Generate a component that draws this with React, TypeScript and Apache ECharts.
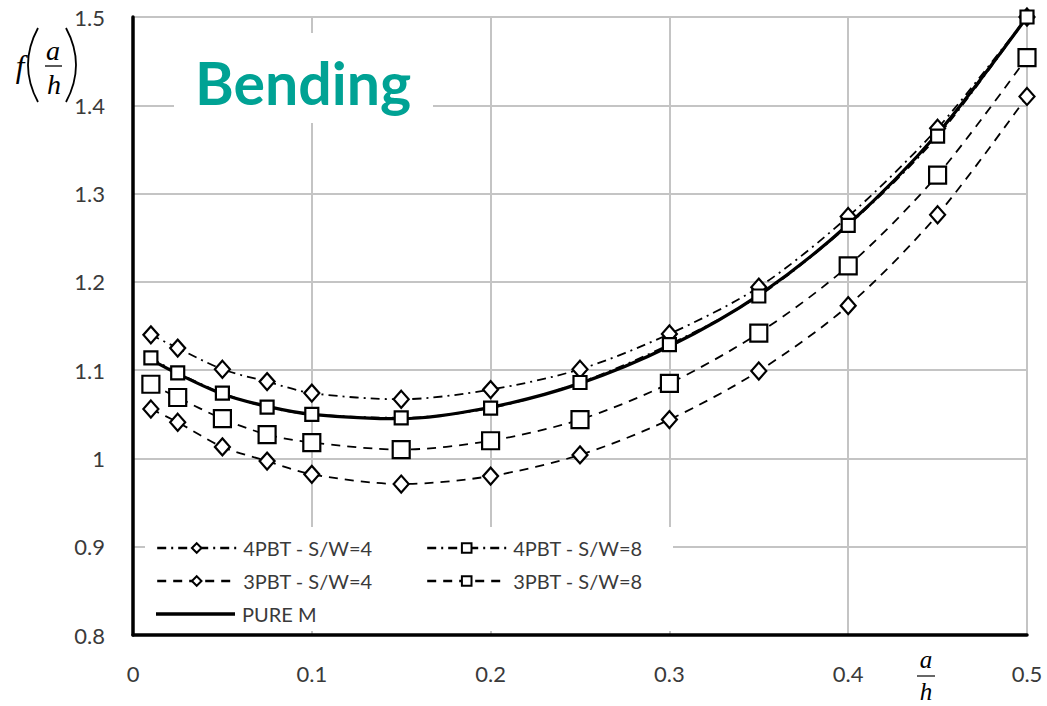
import React, { useEffect, useRef } from "react";
import * as echarts from "echarts";

const xValues = [0.01, 0.025, 0.05, 0.075, 0.1, 0.15, 0.2, 0.25, 0.3, 0.35, 0.4, 0.45, 0.5];
const pbt4sw4 = [1.14, 1.125, 1.101, 1.087, 1.074, 1.067, 1.078, 1.101, 1.141, 1.194, 1.274, 1.374, 1.5];
const pbt4sw8 = [1.114, 1.097, 1.074, 1.058, 1.05, 1.046, 1.057, 1.086, 1.129, 1.184, 1.264, 1.365, 1.5];
const pbt3sw4 = [1.056, 1.041, 1.013, 0.997, 0.982, 0.971, 0.98, 1.004, 1.044, 1.099, 1.173, 1.276, 1.41];
const pbt3sw8 = [1.084, 1.069, 1.045, 1.027, 1.018, 1.01, 1.02, 1.044, 1.085, 1.142, 1.218, 1.321, 1.454];
const pureM = [1.112, 1.096, 1.073, 1.059, 1.05, 1.045, 1.058, 1.085, 1.127, 1.185, 1.265, 1.368, 1.5];
const seriesNames = ["4PBT - S/W=4", "4PBT - S/W=8", "3PBT - S/W=4", "3PBT - S/W=8", "PURE M"];
const yTicks = ["0.8", "0.9", "1", "1.1", "1.2", "1.3", "1.4", "1.5"];
const xTicks = ["0", "0.1", "0.2", "0.3", "0.4", "0.5"];
const titleText = "Bending";

const FONT = "Lato, 'Open Sans', sans-serif";
const SERIF = "'Liberation Serif', 'DejaVu Serif', serif";
const DASH = [9, 7];
const DASHDOT = [9, 5, 2, 5];

function pairs(vals: number[]) {
  return xValues.map((x, i) => [x, vals[i]]);
}

export default function App() {
  const ref = useRef<HTMLDivElement>(null);
  useEffect(() => {
    document.body.style.margin = "0";
    const chart = echarts.init(ref.current!, null, { renderer: "svg" });
    const mk = (name: string, vals: number[], type: any, symbol: string, size: any, width: number, showSymbol = true) => ({
      name,
      type: "line",
      data: pairs(vals),
      smooth: 0.3,
      symbol,
      symbolSize: size,
      showSymbol,
      lineStyle: { color: "#000", width, type },
      itemStyle: { color: "#fff", borderColor: "#000", borderWidth: 2.2 },
      emphasis: { disabled: true },
      z: 5,
    });
    const legendAt = (name: string, left: number, top: number, extra: any = {}) => ({
      data: [name],
      left,
      top,
      padding: 0,
      itemWidth: 79,
      itemHeight: 12,
      itemGap: 0,
      selectedMode: false,
      lineStyle: { width: 2.4 },
      textStyle: { fontFamily: FONT, fontSize: 20, color: "#3a3a3a", padding: [0, 0, 0, 2] },
      z: 10,
      ...extra,
    });
    chart.setOption({
      animation: false,
      grid: { left: 133, right: 20, top: 17, bottom: 71 },
      xAxis: {
        type: "value",
        min: 0,
        max: 0.5,
        interval: 0.1,
        axisLine: { show: true, lineStyle: { color: "#000", width: 3.5 } },
        axisTick: { show: false },
        splitLine: { show: true, lineStyle: { color: "#c4c4c4", width: 2 } },
        axisLabel: {
          margin: 27,
          fontFamily: FONT,
          fontSize: 22,
          color: "#3a3a3a",
          formatter: (v: number) => xTicks[Math.round(v * 10)],
        },
      },
      yAxis: {
        type: "value",
        min: 0.8,
        max: 1.5,
        interval: 0.1,
        axisLine: { show: true, lineStyle: { color: "#000", width: 3.5 } },
        axisTick: { show: false },
        splitLine: { show: true, lineStyle: { color: "#c4c4c4", width: 2 } },
        axisLabel: {
          margin: 28,
          fontFamily: FONT,
          fontSize: 22,
          color: "#3a3a3a",
          formatter: (v: number) => yTicks[Math.round((v - 0.8) * 10)],
        },
      },
      legend: [
        legendAt(seriesNames[0], 156, 538),
        legendAt(seriesNames[1], 426, 538),
        legendAt(seriesNames[2], 156, 571),
        legendAt(seriesNames[3], 426, 571),
        legendAt(seriesNames[4], 156, 604, {
          icon: "rect",
          itemHeight: 3.5,
          itemStyle: { color: "#000", borderWidth: 0 },
        }),
      ],
      series: [
        mk(seriesNames[4], pureM, "solid", "none", 0, 3.2, false),
        mk(seriesNames[0], pbt4sw4, DASHDOT, "diamond", [15, 17], 1.8),
        mk(seriesNames[2], pbt3sw4, DASH, "diamond", [15, 17], 1.8),
        mk(seriesNames[3], pbt3sw8, DASH, "rect", 17, 1.8),
        mk(seriesNames[1], pbt4sw8, DASHDOT, "rect", 13, 1.8),
      ],
      graphic: [
        { type: "rect", shape: { x: 145, y: 527, width: 528, height: 104 }, style: { fill: "#fff" }, z: 3 },
        { type: "rect", shape: { x: 174, y: 33, width: 259, height: 90 }, style: { fill: "#fff" }, z: 3 },
        {
          type: "text",
          x: 303,
          y: 82,
          z: 4,
          style: {
            text: titleText,
            fontFamily: FONT,
            fontWeight: "bold",
            fontSize: 59,
            fill: "#00a294",
            align: "center",
            verticalAlign: "middle",
          },
        },
        {
          type: "group",
          z: 4,
          children: [
            { type: "text", x: 20, y: 66, style: { text: "f", fontFamily: SERIF, fontStyle: "italic", fontSize: 31, fill: "#000", align: "center", verticalAlign: "middle" } },
            { type: "bezierCurve", shape: { x1: 38, y1: 28, cpx1: 18, cpy1: 65, x2: 38, y2: 102 }, style: { stroke: "#000", lineWidth: 1.8, fill: null } },
            { type: "text", x: 53, y: 50, style: { text: "a", fontFamily: SERIF, fontStyle: "italic", fontSize: 28, fill: "#000", align: "center", verticalAlign: "middle" } },
            { type: "line", shape: { x1: 45, y1: 66, x2: 62, y2: 66 }, style: { stroke: "#000", lineWidth: 1.3 } },
            { type: "text", x: 54, y: 84, style: { text: "h", fontFamily: SERIF, fontStyle: "italic", fontSize: 28, fill: "#000", align: "center", verticalAlign: "middle" } },
            { type: "bezierCurve", shape: { x1: 66, y1: 28, cpx1: 86, cpy1: 65, x2: 66, y2: 102 }, style: { stroke: "#000", lineWidth: 1.8, fill: null } },
          ],
        },
        {
          type: "group",
          z: 4,
          children: [
            { type: "text", x: 926, y: 659, style: { text: "a", fontFamily: SERIF, fontStyle: "italic", fontSize: 25, fill: "#000", align: "center", verticalAlign: "middle" } },
            { type: "line", shape: { x1: 917, y1: 676, x2: 935, y2: 676 }, style: { stroke: "#000", lineWidth: 1.2 } },
            { type: "text", x: 926, y: 691, style: { text: "h", fontFamily: SERIF, fontStyle: "italic", fontSize: 25, fill: "#000", align: "center", verticalAlign: "middle" } },
          ],
        },
      ],
    });
    return () => chart.dispose();
  }, []);
  return <div ref={ref} style={{ width: 1047, height: 706 }} />;
}
